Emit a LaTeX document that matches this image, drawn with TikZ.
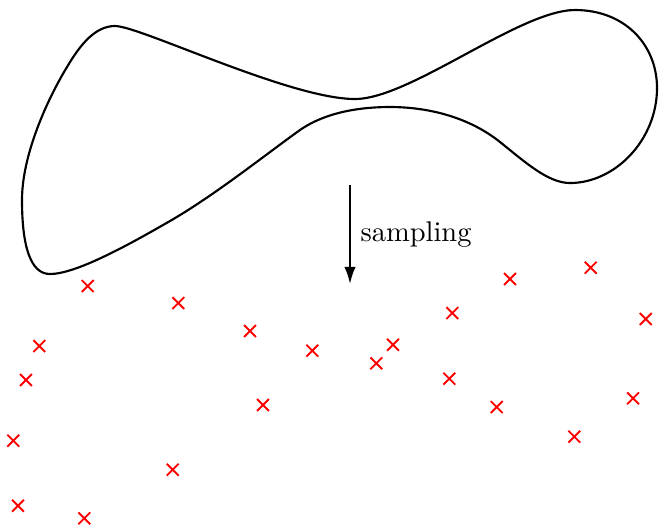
\documentclass[tikz,border=0pt]{standalone}
\usetikzlibrary{arrows.meta,shapes.misc}
\begin{document}
\begin{tikzpicture}[x=0.351pt,y=-0.351pt,
  blob/.style={line width=0.75pt,line join=round},
  samplearrow/.style={line width=0.75pt,-{Latex[length=6pt,width=4pt]}},
  samplept/.style={cross out,draw=red,line width=0.65pt,inner sep=0pt,minimum size=3.5pt}]
\useasboundingbox (0,0) rectangle (659,525);
\draw[blob] (115,26)
  .. controls (140,26) and (290,99) .. (355,99)
  .. controls (410,99) and (520,10) .. (575,10)
  .. controls (625,10) and (657,45) .. (657,88)
  .. controls (657,140) and (615,183) .. (570,183)
  .. controls (548,183) and (525,162) .. (500,142)
  .. controls (470,118) and (430,107) .. (390,107)
  .. controls (350,107) and (320,116) .. (300,130)
  .. controls (265,155) and (215,195) .. (170,221)
  .. controls (125,247) and (75,274) .. (50,274)
  .. controls (30,274) and (22,245) .. (22,200)
  .. controls (22,155) and (47,100) .. (67,67)
  .. controls (80,45) and (95,26) .. cycle;
\coordinate (a0) at (350,185);
\coordinate (a1) at (350,284);
\draw[samplearrow] (a0) -- node[right] (lab) {sampling} (a1);
\node[samplept] (p1) at (87.7,286) {};
\node[samplept] (p2) at (178.3,303) {};
\node[samplept] (p3) at (250,331) {};
\node[samplept] (p4) at (312.3,350.7) {};
\node[samplept] (p5) at (39.3,346) {};
\node[samplept] (p6) at (26,380) {};
\node[samplept] (p7) at (263,405) {};
\node[samplept] (p8) at (13.3,440.7) {};
\node[samplept] (p9) at (172.7,469.7) {};
\node[samplept] (p10) at (18,505.7) {};
\node[samplept] (p11) at (84.3,518.3) {};
\node[samplept] (p12) at (510,279) {};
\node[samplept] (p13) at (590.7,267.7) {};
\node[samplept] (p14) at (452.3,313) {};
\node[samplept] (p15) at (645.7,319) {};
\node[samplept] (p16) at (393,344.7) {};
\node[samplept] (p17) at (376.3,363.3) {};
\node[samplept] (p18) at (449.3,378.7) {};
\node[samplept] (p19) at (496.7,407) {};
\node[samplept] (p20) at (633,398.3) {};
\node[samplept] (p21) at (574.3,436.7) {};
\end{tikzpicture}
\end{document}
